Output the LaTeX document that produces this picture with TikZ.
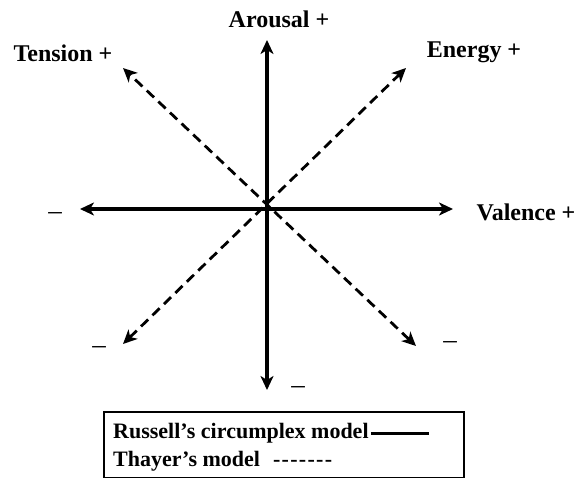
\documentclass[tikz,border=0pt]{standalone}
\usepackage{fontspec}
\setmainfont{Liberation Serif}
\usetikzlibrary{arrows.meta}

\begin{document}
\begin{tikzpicture}[x=1pt,y=-1pt,>={Stealth[length=14pt,width=13pt,inset=4pt]},
  axis/.style={<->,line width=3.2pt},
  diag/.style={<->,line width=2.8pt,dash pattern=on 10pt off 6pt},
  lbl/.style={font=\fontsize{24}{26}\selectfont\bfseries,inner sep=0pt},
  neg/.style={font=\fontsize{27}{29}\selectfont,inner sep=0pt},
  key/.style={font=\fontsize{22}{24}\selectfont\bfseries,inner sep=0pt,anchor=base west}]
\useasboundingbox (0,0) rectangle (584,477);
% ends of the two models' axes
\coordinate (C) at (267,208);
\coordinate (N) at (267,40);
\coordinate (S) at (267,390);
\coordinate (W) at (80,209);
\coordinate (E) at (453,209);
\coordinate (NW) at (123,68);
\coordinate (NE) at (406,68);
\coordinate (SW) at (123,344);
\coordinate (SE) at (416,346);
%Russell
\draw[axis] (W) -- (E);
\draw[axis] (S) -- (N);
%Thayer
\draw[diag] (SE) -- (NW);
\draw[diag] (SW) -- (NE);
% axis labels
\node[lbl] (arousal) at (279,19) {Arousal +};
\node[lbl] (tension) at (63,53) {Tension +};
\node[lbl] (energy) at (474,52) {Energy +};
\node[lbl] (valence) at (526,212) {Valence +};
\node[neg] (negW) at (55,216) {--};
\node[neg] (negSW) at (99,350) {--};
\node[neg] (negSE) at (450,345) {--};
\node[neg] (negS) at (298,390) {--};
% legend
\node[draw,line width=2.4pt,minimum width=360pt,minimum height=66pt,anchor=north west] (legend) at (103,411) {};
\node[key] (russell) at (113,438) {Russell's circumplex model};
\node[key] (thayer) at (113,466) {Thayer's model\hspace{13pt}-\kern1.3pt-\kern1.3pt-\kern1.3pt-\kern1.3pt-\kern1.3pt-\kern1.3pt-};
\draw[line width=3pt] ([shift={(2pt,5pt)}]russell.base east) -- ++(58,0);
\end{tikzpicture}
\end{document}
